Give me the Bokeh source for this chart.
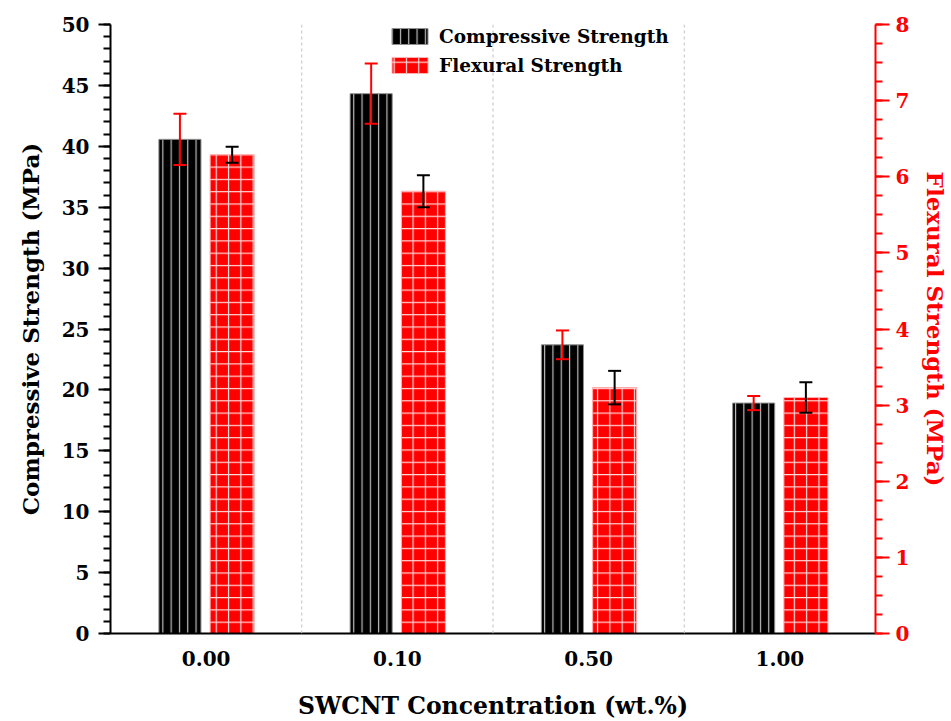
from bokeh.plotting import figure
from bokeh.models import (Range1d, LinearAxis, FactorRange, Span, Whisker, TeeHead,
                          ColumnDataSource, Legend, LegendItem, SingleIntervalTicker)
from bokeh.transform import dodge
from bokeh.embed import file_html
from bokeh.resources import INLINE

categories = ["0.00", "0.10", "0.50", "1.00"]
compressive = [40.57, 44.32, 23.70, 18.92]
compressive_err = [2.11, 2.47, 1.18, 0.58]
flexural = [6.29, 5.81, 3.23, 3.10]
flexural_err = [0.105, 0.21, 0.22, 0.20]

FONT = "DejaVu Serif"
RED = "#ff0000"

src = ColumnDataSource(dict(
    cat=categories,
    comp=compressive,
    comp_up=[v + e for v, e in zip(compressive, compressive_err)],
    comp_lo=[v - e for v, e in zip(compressive, compressive_err)],
    flex=flexural,
    flex_up=[v + e for v, e in zip(flexural, flexural_err)],
    flex_lo=[v - e for v, e in zip(flexural, flexural_err)],
))

FW, FH = 765, 609
p = figure(frame_width=FW, frame_height=FH,
           x_range=FactorRange(factors=categories, range_padding=0),
           y_range=Range1d(0, 50),
           output_backend="svg", toolbar_location=None,
           min_border_left=110, min_border_right=10,
           min_border_top=24, min_border_bottom=10)
p.outline_line_color = None
p.xgrid.visible = False
p.ygrid.visible = False
p.extra_y_ranges = {"flex": Range1d(0, 8)}

for loc in [1, 2, 3]:
    p.add_layout(Span(location=loc, dimension="height", line_color="#c0c0c0",
                      line_dash="3 3", line_width=1))

r1 = p.vbar(x=dodge("cat", -0.137, range=p.x_range), top="comp", width=0.22, source=src,
            fill_color="black", line_color="#909090", line_width=1,
            hatch_pattern="vertical_line", hatch_color="white", hatch_alpha=0.75,
            hatch_scale=8.3, hatch_weight=1.2)
r2 = p.vbar(x=dodge("cat", 0.136, range=p.x_range), top="flex", width=0.23, source=src,
            fill_color=RED, line_color="#ffb0b0", line_width=1,
            hatch_pattern="cross", hatch_color="white", hatch_alpha=0.85,
            hatch_scale=12.3, hatch_weight=1.2, y_range_name="flex")

w1 = Whisker(base=dodge("cat", -0.137, range=p.x_range), upper="comp_up", lower="comp_lo",
             source=src, line_color=RED, line_width=2, level="overlay",
             upper_head=TeeHead(size=13, line_color=RED, line_width=2),
             lower_head=TeeHead(size=13, line_color=RED, line_width=2))
w2 = Whisker(base=dodge("cat", 0.136, range=p.x_range), upper="flex_up", lower="flex_lo",
             source=src, line_color="black", line_width=2, level="overlay", y_range_name="flex",
             upper_head=TeeHead(size=13, line_color="black", line_width=2),
             lower_head=TeeHead(size=13, line_color="black", line_width=2))
p.add_layout(w1)
p.add_layout(w2)


def style_axis(ax, col, label_size):
    ax.axis_line_color = col
    ax.axis_line_width = 2
    ax.major_tick_line_color = col
    ax.major_tick_line_width = 2
    ax.minor_tick_line_color = col
    ax.minor_tick_line_width = 2
    ax.major_label_text_color = col
    ax.major_label_text_font = FONT
    ax.major_label_text_font_style = "bold"
    ax.major_label_text_font_size = "20px"
    ax.axis_label_text_color = col
    ax.axis_label_text_font = FONT
    ax.axis_label_text_font_style = "bold"
    ax.axis_label_text_font_size = label_size


# left axis
ya = p.yaxis[0]
ya.ticker = SingleIntervalTicker(interval=5, num_minor_ticks=5)
ya.axis_label = "Compressive Strength (MPa)"
style_axis(ya, "black", "23px")
ya.major_tick_out = 12
ya.major_tick_in = 0
ya.minor_tick_out = 7
ya.minor_tick_in = 0
ya.major_label_standoff = 9
ya.axis_label_standoff = 15

# right axis
ra = LinearAxis(y_range_name="flex", axis_label="Flexural Strength (MPa)",
                ticker=SingleIntervalTicker(interval=1, num_minor_ticks=4))
style_axis(ra, RED, "23px")
ra.major_tick_out = 14
ra.major_tick_in = 0
ra.minor_tick_out = 7
ra.minor_tick_in = 0
ra.major_label_standoff = 6
ra.axis_label_standoff = 10
p.add_layout(ra, "right")

# bottom axis
xa = p.xaxis[0]
style_axis(xa, "black", "23.5px")
xa.axis_label = "SWCNT Concentration (wt.%)"
xa.major_tick_line_color = None
xa.minor_tick_line_color = None
xa.major_label_standoff = 11
xa.axis_label_standoff = 23

legend = Legend(items=[LegendItem(label="Compressive Strength", renderers=[r1]),
                       LegendItem(label="Flexural Strength", renderers=[r2])],
                location=(277, 557), glyph_width=45, glyph_height=20, spacing=7,
                padding=0, margin=0, border_line_color=None, background_fill_alpha=0,
                label_text_font=FONT, label_text_font_style="bold",
                label_text_color="black",
                label_text_font_size="18.5px", label_standoff=7, label_height=22)
p.add_layout(legend)

open("out.html", "w").write(file_html(p, INLINE))
